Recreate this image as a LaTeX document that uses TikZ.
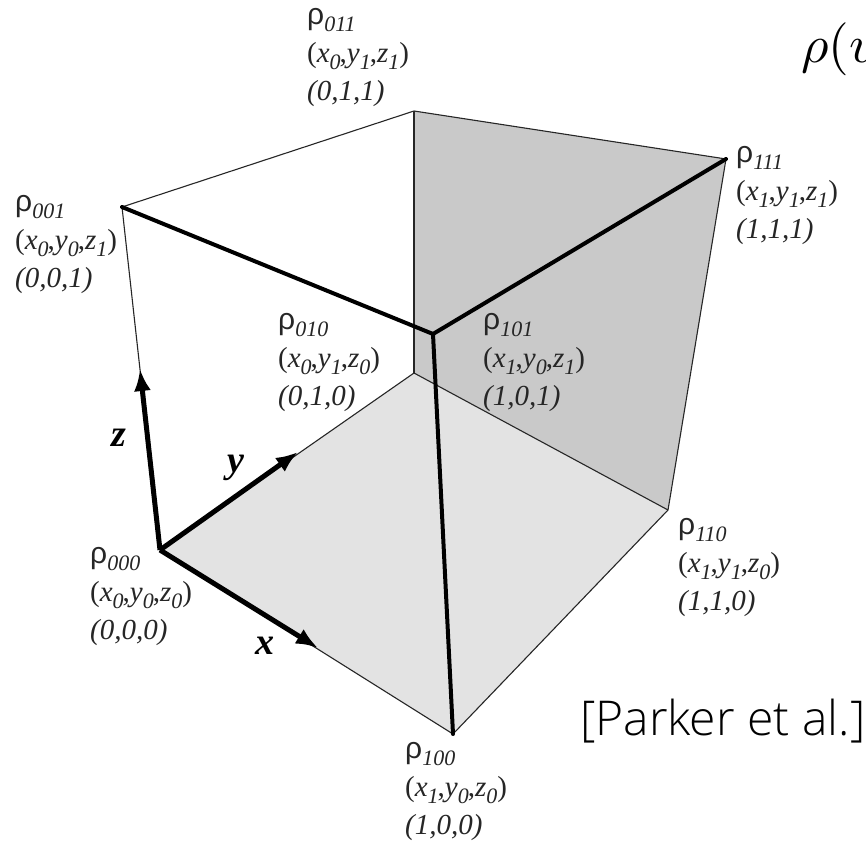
\documentclass[tikz,border=0pt]{standalone}
\usepackage{fontspec}
\setmainfont{Liberation Serif}
\newfontfamily\rhofont{Liberation Sans}
\newfontfamily\citefont{Open Sans Light}
\usetikzlibrary{arrows.meta, positioning}

\newcommand{\idx}[1]{\raisebox{-0.22em}{\fontsize{22}{22}\selectfont\itshape #1}}
\newcommand{\rhoname}[1]{\strut{\fontsize{30}{38}\selectfont\rhofont ρ}\idx{#1}}
\newcommand{\coords}[3]{(\textit{x}\idx{#1}\kern-1pt,\textit{y}\idx{#2}\kern-1pt,\textit{z}\idx{#3})}
\newcommand{\corner}[3]{\textit{(#1,#2,#3)}}

\begin{document}
\begin{tikzpicture}[
    x=1pt, y=-1pt,
    thinedge/.style={draw=black!85, line width=1.1pt},
    boldedge/.style={draw=black, line width=4pt, line cap=round},
    axisarrow/.style={-{Latex[length=22pt, width=17pt]}, draw=black, line width=5pt},
    vertexlabel/.style={inner sep=0pt, align=left, font=\fontsize{29}{38}\selectfont, text=black!85},
    axisname/.style={inner sep=0pt, font=\fontsize{38}{38}\selectfont\bfseries\itshape}
]
    \path[use as bounding box, fill=white] (0,0) rectangle (866,842);

    % Cube corners
    \coordinate (p000) at (160,550);
    \coordinate (p100) at (453,734);
    \coordinate (p110) at (668,510);
    \coordinate (p010) at (414,373);
    \coordinate (p001) at (122,207);
    \coordinate (p101) at (433,334);
    \coordinate (p111) at (726,159);
    \coordinate (p011) at (414,111);

    % Axis tips
    \coordinate (tipx) at (318,648);
    \coordinate (tipy) at (298,452);
    \coordinate (tipz) at (140,369);

    % Shaded faces
    \fill[black!21] (p011) -- (p111) -- (p110) -- (p010) -- cycle;
    \fill[black!11] (p000) -- (p100) -- (p110) -- (p010) -- cycle;

    % Thin edges
    \draw[thinedge] (p000) -- (p001);
    \draw[thinedge] (p001) -- (p011);
    \draw[thinedge] (p011) -- (p111);
    \draw[thinedge] (p111) -- (p110);
    \draw[thinedge] (p011) -- (p010);
    \draw[thinedge] (p010) -- (p110);
    \draw[thinedge] (p010) -- (p000);
    \draw[thinedge] (p000) -- (p100);
    \draw[thinedge] (p100) -- (p110);

    % Front edges
    \draw[boldedge] (p001) -- (p101);
    \draw[boldedge] (p101) -- (p111);
    \draw[boldedge] (p101) -- (p100);

    % Axes
    \draw[axisarrow] (p000) -- (tipx);
    \draw[axisarrow] (p000) -- (tipy);
    \draw[axisarrow] (p000) -- (tipz);
    \node[axisname] (namex) at (265,646) {x};
    \node[axisname] (namey) at (236,468) {y};
    \node[axisname] (namez) at (119,438) {z};

    % Corner labels
    \node[vertexlabel, below right=-113pt and -107pt of p011] (l011) {\rhoname{011}\\\coords{0}{1}{1}\\\corner{0}{1}{1}};
    \node[vertexlabel, below right=-22pt and -107pt of p001] (l001) {\rhoname{001}\\\coords{0}{0}{1}\\\corner{0}{0}{1}};
    \node[vertexlabel, below right=-70pt and -136pt of p010] (l010) {\rhoname{010}\\\coords{0}{1}{0}\\\corner{0}{1}{0}};
    \node[vertexlabel, below right=-31pt and 50pt of p101] (l101) {\rhoname{101}\\\coords{1}{0}{1}\\\corner{1}{0}{1}};
    \node[vertexlabel, below right=-23pt and 10pt of p111] (l111) {\rhoname{111}\\\coords{1}{1}{1}\\\corner{1}{1}{1}};
    \node[vertexlabel, below right=-2pt and 10pt of p110] (l110) {\rhoname{110}\\\coords{1}{1}{0}\\\corner{1}{1}{0}};
    \node[vertexlabel, below right=-13pt and -70pt of p000] (l000) {\rhoname{000}\\\coords{0}{0}{0}\\\corner{0}{0}{0}};
    \node[vertexlabel, below right=-2pt and -48pt of p100] (l100) {\rhoname{100}\\\coords{1}{0}{0}\\\corner{1}{0}{0}};

    % Formula and citation
    \node[inner sep=0pt, anchor=base west, scale=5.3] (formula) at (800,63) {$\rho(v$};
    \node[inner sep=0pt, anchor=base west, font=\fontsize{48}{48}\selectfont\citefont] (cite) at (580,735) {[Parker et al.]};
\end{tikzpicture}
\end{document}
